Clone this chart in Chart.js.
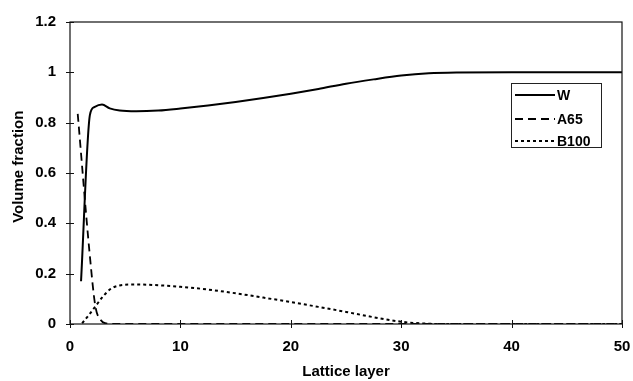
<!DOCTYPE html>
<html>
<head>
<meta charset="utf-8">
<script src="https://cdn.jsdelivr.net/npm/chart.js@4/dist/chart.umd.min.js"></script>
<style>
  html, body { margin: 0; padding: 0; background: #fff; }
  #wrap { width: 633px; height: 381px; }
</style>
</head>
<body>
<div id="wrap"><canvas id="chart" width="633" height="381"></canvas></div>
<script>
// values
const wLayer    = [1.0, 1.8, 2.2, 2.9, 3.6, 4.5, 6, 8, 10, 12.5, 15, 17.5, 20, 22.5, 25, 27.5, 30, 32.5, 35, 40, 45, 50];
const wFraction = [0.17, 0.83, 0.862, 0.872, 0.857, 0.848, 0.845, 0.848, 0.856, 0.868, 0.882, 0.898, 0.915, 0.934, 0.955, 0.972, 0.987, 0.996, 0.999, 1, 1, 1];

const aLayer    = [0.7, 1.8, 2.3, 2.8, 3.3, 4, 10, 20, 30, 40, 50];
const aFraction = [0.835, 0.27, 0.07, 0.015, 0.002, 0, 0, 0, 0, 0, 0];

const bLayer    = [1.1, 1.7, 2.3, 3.0, 3.7, 4.5, 6, 8, 10, 12.5, 15, 17.5, 20, 22.5, 25, 27.5, 30, 32, 34, 40, 50];
const bFraction = [0.003, 0.035, 0.07, 0.11, 0.14, 0.153, 0.157, 0.154, 0.148, 0.137, 0.122, 0.105, 0.087, 0.068, 0.048, 0.027, 0.009, 0.002, 0, 0, 0];

const xTicks = [0, 10, 20, 30, 40, 50];
const yTicks = [0, 0.2, 0.4, 0.6, 0.8, 1, 1.2];

const seriesNames = ['W', 'A65', 'B100'];
const seriesDash = [[], [8, 5], [3, 3]];

function points(xs, ys) {
    return xs.map((x, i) => ({ x: x, y: ys[i] }));
}

const FONT = 'Liberation Sans, Arial, sans-serif';

// frame, crossing tick marks and the boxed legend
const framePlugin = {
    id: 'frame',
    afterDraw(chart) {
        const { ctx, chartArea: a, scales } = chart;
        ctx.save();
        ctx.strokeStyle = '#111';
        ctx.lineWidth = 1.2;
        ctx.setLineDash([]);
        ctx.strokeRect(a.left, a.top, a.right - a.left, a.bottom - a.top);

        ctx.lineWidth = 1;
        ctx.beginPath();
        xTicks.forEach(v => {
            const px = Math.round(scales.x.getPixelForValue(v)) + 0.5;
            ctx.moveTo(px, a.bottom - 4);
            ctx.lineTo(px, a.bottom + 4);
        });
        yTicks.forEach(v => {
            const py = Math.round(scales.y.getPixelForValue(v)) + 0.5;
            ctx.moveTo(a.left - 4, py);
            ctx.lineTo(a.left + 4, py);
        });
        ctx.stroke();

        // legend box
        const bx = a.right - 111, by = a.top + 61, bw = 90, bh = 64;
        ctx.fillStyle = '#fff';
        ctx.fillRect(bx, by, bw, bh);
        ctx.strokeStyle = '#222';
        ctx.lineWidth = 1;
        ctx.strokeRect(bx + 0.5, by + 0.5, bw, bh);
        const rows = [12, 36, 58];
        ctx.font = 'bold 14px ' + FONT;
        ctx.textBaseline = 'middle';
        ctx.textAlign = 'left';
        chart.data.datasets.forEach((ds, i) => {
            const y = by + rows[i];
            ctx.strokeStyle = '#000';
            ctx.lineWidth = ds.borderWidth;
            ctx.setLineDash(ds.borderDash);
            ctx.beginPath();
            ctx.moveTo(bx + 4, y);
            ctx.lineTo(bx + 44, y);
            ctx.stroke();
            ctx.setLineDash([]);
            ctx.fillStyle = '#000';
            ctx.fillText(ds.label, bx + 46, y + 1);
        });
        ctx.restore();
    }
};

const ctx = document.getElementById('chart').getContext('2d');
new Chart(ctx, {
    type: 'line',
    data: {
        datasets: [
            { label: seriesNames[0], data: points(wLayer, wFraction), borderWidth: 2, borderDash: seriesDash[0] },
            { label: seriesNames[1], data: points(aLayer, aFraction), borderWidth: 1.8, borderDash: seriesDash[1] },
            { label: seriesNames[2], data: points(bLayer, bFraction), borderWidth: 2, borderDash: seriesDash[2] }
        ].map(ds => ({
            ...ds,
            borderColor: '#000',
            backgroundColor: '#000',
            pointRadius: 0,
            fill: false,
            cubicInterpolationMode: 'monotone'
        }))
    },
    options: {
        responsive: false,
        animation: false,
        layout: { padding: { top: 22, right: 11, left: 0, bottom: 0 } },
        plugins: {
            legend: { display: false },
            tooltip: { enabled: false }
        },
        scales: {
            x: {
                type: 'linear',
                min: 0,
                max: 50,
                afterFit: s => { s.height = 57; s.paddingLeft = 0; s.paddingRight = 0; },
                afterBuildTicks: s => { s.ticks = xTicks.map(v => ({ value: v })); },
                grid: { display: false, drawTicks: false },
                border: { display: false },
                ticks: {
                    padding: 14,
                    color: '#000',
                    font: { family: FONT, size: 15, weight: 'bold' }
                },
                title: {
                    display: true,
                    text: 'Lattice layer',
                    color: '#000',
                    padding: { top: 0, bottom: 0 },
                    font: { family: FONT, size: 15, weight: 'bold' }
                }
            },
            y: {
                min: 0,
                max: 1.2,
                afterFit: s => { s.width = 70; s.paddingTop = 0; s.paddingBottom = 0; },
                afterBuildTicks: s => { s.ticks = yTicks.map(v => ({ value: v })); },
                grid: { display: false, drawTicks: false },
                border: { display: false },
                ticks: {
                    padding: 14,
                    color: '#000',
                    callback: v => String(v),
                    font: { family: FONT, size: 15, weight: 'bold' }
                },
                title: {
                    display: true,
                    text: '   Volume fraction',
                    color: '#000',
                    padding: { top: 10, bottom: 0 },
                    font: { family: FONT, size: 15, weight: 'bold' }
                }
            }
        }
    },
    plugins: [framePlugin]
});
</script>
</body>
</html>
